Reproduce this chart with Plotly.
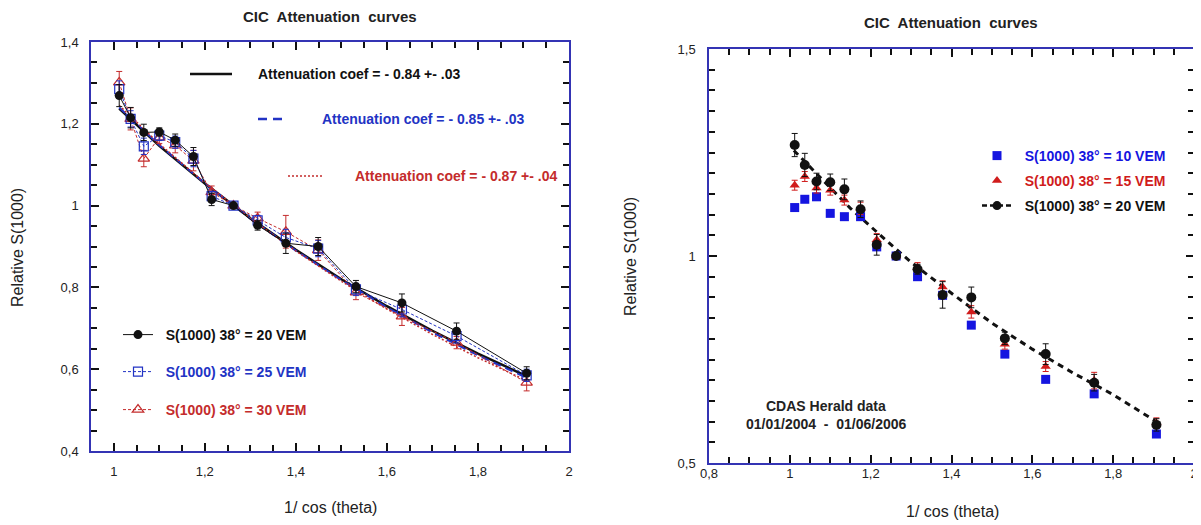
import plotly.graph_objs as go

# 1/cos(theta) bins (shared by both panels)
secTheta = [1.012, 1.037, 1.066, 1.100, 1.135, 1.175, 1.215, 1.263, 1.316, 1.378, 1.449, 1.532, 1.633, 1.753, 1.907]

# left panel: relative S(1000) for three reference signals
left20 = [1.269, 1.215, 1.179, 1.180, 1.160, 1.120, 1.015, 1.000, 0.952, 0.908, 0.900, 0.802, 0.762, 0.693, 0.590]
left20Err = [0.027, 0.025, 0.020, 0.010, 0.015, 0.022, 0.015, 0.0, 0.012, 0.025, 0.022, 0.015, 0.022, 0.020, 0.016]
left25 = [1.285, 1.212, 1.145, 1.171, 1.155, 1.115, 1.023, 1.000, 0.964, 0.922, 0.895, 0.795, 0.746, 0.681, 0.585]
left25Err = [0.020, 0.020, 0.020, 0.012, 0.015, 0.020, 0.012, 0.0, 0.012, 0.020, 0.020, 0.015, 0.018, 0.017, 0.015]
left30 = [1.301, 1.212, 1.115, 1.167, 1.147, 1.110, 1.033, 1.000, 0.969, 0.936, 0.891, 0.788, 0.729, 0.665, 0.567]
left30Err = [0.027, 0.027, 0.020, 0.015, 0.018, 0.025, 0.015, 0.0, 0.015, 0.040, 0.025, 0.018, 0.022, 0.015, 0.020]

# attenuation fits
fitX = [1.012, 1.1, 1.2, 1.3, 1.4, 1.5, 1.6, 1.7, 1.8, 1.907]
fit20 = [1.237, 1.146, 1.054, 0.969, 0.892, 0.820, 0.754, 0.694, 0.638, 0.583]
fit25 = [1.240, 1.148, 1.055, 0.968, 0.890, 0.818, 0.751, 0.690, 0.634, 0.579]
fit30 = [1.245, 1.151, 1.056, 0.969, 0.889, 0.815, 0.747, 0.685, 0.628, 0.572]
fitLabels = ["Attenuation coef = - 0.84 +- .03", "Attenuation coef = - 0.85 +- .03", "Attenuation coef = - 0.87 +- .04"]

# right panel
right10 = [1.117, 1.137, 1.143, 1.103, 1.095, 1.095, 1.022, 1.000, 0.950, 0.905, 0.833, 0.763, 0.702, 0.667, 0.570]
right15 = [1.171, 1.192, 1.164, 1.159, 1.135, 1.115, 1.039, 1.000, 0.972, 0.925, 0.865, 0.787, 0.733, 0.699, 0.597]
right15Err = [0.012, 0.012, 0.012, 0.012, 0.012, 0.015, 0.015, 0.0, 0.012, 0.015, 0.015, 0.012, 0.012, 0.020, 0.012]
right20 = [1.268, 1.220, 1.180, 1.178, 1.161, 1.113, 1.027, 1.000, 0.968, 0.906, 0.900, 0.801, 0.763, 0.694, 0.592]
right20Err = [0.028, 0.028, 0.020, 0.020, 0.025, 0.020, 0.025, 0.0, 0.012, 0.032, 0.025, 0.015, 0.025, 0.020, 0.015]
curveX = [1.01, 1.07, 1.15, 1.23, 1.30, 1.40, 1.50, 1.60, 1.70, 1.80, 1.91]
curveY = [1.255, 1.195, 1.115, 1.045, 0.985, 0.910, 0.838, 0.775, 0.718, 0.665, 0.598]

leftXTicks = [1, 1.2, 1.4, 1.6, 1.8, 2]
leftXText = ["1", "1,2", "1,4", "1,6", "1,8", "2"]
leftYTicks = [0.4, 0.6, 0.8, 1, 1.2, 1.4]
leftYText = ["0,4", "0,6", "0,8", "1", "1,2", "1,4"]
rightXTicks = [0.8, 1, 1.2, 1.4, 1.6, 1.8, 2]
rightXText = ["0,8", "1", "1,2", "1,4", "1,6", "1,8", "2"]
rightYTicks = [0.5, 1, 1.5]
rightYText = ["0,5", "1", "1,5"]

# the page body keeps its default 8px margin, so the figure is laid out
# in window pixels and shifted by that margin
OFF = 8
W, H = 1201 - OFF, 525 - OFF
FONT = "Liberation Sans, Arial, Helvetica, sans-serif"
AXISBLUE = "#3434b4"
BLACK = "#111111"
TEXT = "#222222"
BLUE_L = "#2233c4"
RED_L = "#c42c2c"
BLUE_R = "#1515e0"
RED_R = "#d01c1c"
PAD = "\u00a0\u00a0"


def px(x):
    return (x - OFF) / W


def py(y):
    return 1 - (y - OFF) / H


def bold(text, color):
    return f'<b><span style="color:{color}">{PAD}{text}</span></b>'


def errBars(values, color):
    return dict(type="data", array=values, visible=True, color=color, thickness=1, width=3)


fig = go.Figure()

# left panel: fits
fig.add_trace(go.Scatter(x=fitX, y=fit20, mode="lines", line=dict(color=BLACK, width=2.5), showlegend=False))
fig.add_trace(go.Scatter(x=fitX, y=fit25, mode="lines", line=dict(color=BLUE_L, width=2, dash="8px,5px"),
                         showlegend=False))
fig.add_trace(go.Scatter(x=fitX, y=fit30, mode="lines", line=dict(color=RED_L, width=1.5, dash="2px,2px"),
                         showlegend=False))

# left panel: data
fig.add_trace(go.Scatter(x=secTheta, y=left30, error_y=errBars(left30Err, RED_L), mode="lines+markers",
                         line=dict(color=RED_L, width=1, dash="3px,2px"),
                         marker=dict(symbol="triangle-up-open", size=10, color=RED_L, line=dict(width=1.2)),
                         name=bold("S(1000) 38° = 30 VEM", RED_L), legend="legend3"))
fig.add_trace(go.Scatter(x=secTheta, y=left25, error_y=errBars(left25Err, BLUE_L), mode="lines+markers",
                         line=dict(color=BLUE_L, width=1, dash="3px,2px"),
                         marker=dict(symbol="square-open", size=9, color=BLUE_L, line=dict(width=1.2)),
                         name=bold("S(1000) 38° = 25 VEM", BLUE_L), legend="legend2"))
fig.add_trace(go.Scatter(x=secTheta, y=left20, error_y=errBars(left20Err, BLACK), mode="lines+markers",
                         line=dict(color=BLACK, width=1),
                         marker=dict(symbol="circle", size=9, color=BLACK),
                         name=bold("S(1000) 38° = 20 VEM", BLACK), legend="legend"))

# right panel
fig.add_trace(go.Scatter(x=curveX, y=curveY, mode="lines", xaxis="x2", yaxis="y2",
                         line=dict(color=BLACK, width=3, dash="6px,5px"), showlegend=False))
fig.add_trace(go.Scatter(x=secTheta, y=right10, mode="markers", xaxis="x2", yaxis="y2",
                         marker=dict(symbol="square", size=9, color=BLUE_R),
                         name=bold("S(1000) 38° = 10 VEM", BLUE_R), legend="legend7"))
fig.add_trace(go.Scatter(x=secTheta, y=right15, error_y=errBars(right15Err, RED_R), mode="markers",
                         xaxis="x2", yaxis="y2",
                         marker=dict(symbol="triangle-up", size=9, color=RED_R),
                         name=bold("S(1000) 38° = 15 VEM", RED_R), legend="legend8"))
fig.add_trace(go.Scatter(x=secTheta, y=right20, error_y=errBars(right20Err, BLACK), mode="markers",
                         xaxis="x2", yaxis="y2",
                         marker=dict(symbol="circle", size=10, color=BLACK), showlegend=False))
# legend-only entry showing the dashed line with the circle marker
fig.add_trace(go.Scatter(x=[None], y=[None], mode="lines+markers", xaxis="x2", yaxis="y2",
                         line=dict(color=BLACK, width=2.5, dash="5px,3px"),
                         marker=dict(symbol="circle", size=9, color=BLACK),
                         name=bold("S(1000) 38° = 20 VEM", BLACK), legend="legend9"))


def axis(rng, domain, vals, text, anchor, standoff):
    return dict(range=rng, domain=domain, anchor=anchor, tickmode="array", tickvals=vals, ticktext=text,
                showline=True, linecolor=AXISBLUE, linewidth=1.5, mirror="ticks",
                ticks="inside", ticklen=8, tickwidth=1.5, tickcolor=BLACK,
                minor=dict(dtick=0.05, ticks="inside", ticklen=6, tickwidth=1.5, tickcolor=BLACK),
                showgrid=False, zeroline=False, ticklabelstandoff=standoff, automargin=False,
                tickfont=dict(family=FONT, size=13, color=TEXT))


def legendAt(x, y):
    return dict(x=px(x), y=py(y), xanchor="left", yanchor="middle", bgcolor="rgba(0,0,0,0)",
                borderwidth=0, font=dict(family=FONT, size=14), itemclick=False)


fig.update_layout(
    width=W, height=H, margin=dict(l=0, r=0, t=0, b=0, autoexpand=False),
    plot_bgcolor="white", paper_bgcolor="white",
    xaxis=axis([0.95, 2.0], [px(91), px(569)], leftXTicks, leftXText, "y", 8),
    yaxis=axis([0.4, 1.4], [py(451), py(42)], leftYTicks, leftYText, "x", 8),
    xaxis2=axis([0.8, 2.0], [px(709), px(1194)], rightXTicks, rightXText, "y2", -2),
    yaxis2=axis([0.5, 1.5], [py(463), py(49)], rightYTicks, rightYText, "x2", 9),
    legend=legendAt(118, 335),
    legend2=legendAt(118, 372),
    legend3=legendAt(118, 410),
    legend7=legendAt(977, 156),
    legend8=legendAt(977, 181),
    legend9=legendAt(977, 206),
    showlegend=True,
)

# keys of the three attenuation fits
fitKeys = [(190, 232, 74, BLACK, 2.5, "solid", 256), (258, 286, 119, BLUE_L, 2.5, "9px,6px", 320),
           (288, 324, 176, RED_L, 1.5, "2px,2px", 353)]
for (x0, x1, y, color, width, dash, tx), label in zip(fitKeys, fitLabels):
    fig.add_shape(type="line", xref="paper", yref="paper", x0=px(x0), x1=px(x1), y0=py(y), y1=py(y),
                  line=dict(color=color, width=width, dash=dash))
    fig.add_annotation(x=px(tx), y=py(y), xref="paper", yref="paper", text=f"<b>{label}</b>",
                       showarrow=False, xanchor="left", yanchor="middle",
                       font=dict(family=FONT, size=14, color=color))

notes = [
    (330, 16, "<b>CIC  Attenuation  curves</b>", 15, 0),
    (951, 23, "<b>CIC  Attenuation  curves</b>", 15, 0),
    (330, 507, "1/ cos (theta)", 16, 0),
    (952, 511, "1/ cos (theta)", 16, 0),
    (18, 248, "Relative S(1000)", 16, -90),
    (630, 257, "Relative S(1000)", 16, -90),
    (826, 406, "<b>CDAS Herald data</b>", 14, 0),
    (826, 424, "<b>01/01/2004  -  01/06/2006</b>", 14, 0),
]
for x, y, text, size, angle in notes:
    fig.add_annotation(x=px(x), y=py(y), xref="paper", yref="paper", text=text, showarrow=False,
                       textangle=angle, xanchor="center", yanchor="middle",
                       font=dict(family=FONT, size=size, color=TEXT))

fig.write_html("out.html")
